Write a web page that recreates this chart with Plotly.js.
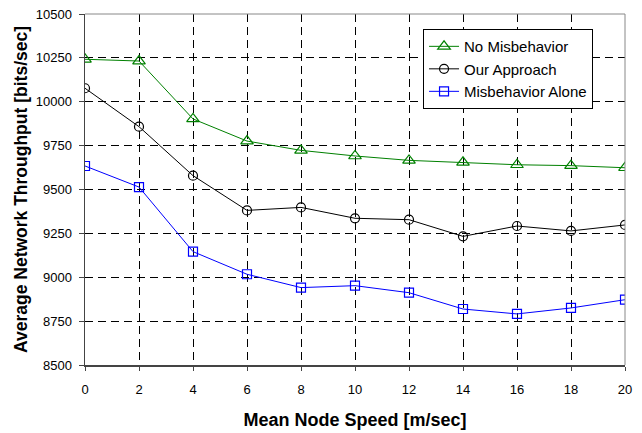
<!DOCTYPE html>
<html><head><meta charset="utf-8">
<script src="https://cdn.plot.ly/plotly-3.0.1.min.js"></script>
<style>body{margin:0;background:#fff}#c{width:642px;height:433px}</style>
</head><body><div id="c"></div>
<script>
const speeds = [0, 2, 4, 6, 8, 10, 12, 14, 16, 18, 20];
const noMisbehavior = [10242, 10232, 9902, 9776, 9723, 9691, 9666, 9655, 9641, 9636, 9624];
const ourApproach = [10077, 9858, 9579, 9381, 9398, 9336, 9328, 9233, 9292, 9264, 9298];
const misbehaviorAlone = [9634, 9514, 9146, 9017, 8941, 8952, 8912, 8819, 8791, 8825, 8872];
const yTicks = [8500, 8750, 9000, 9250, 9500, 9750, 10000, 10250, 10500];

const traces = [
  {x: speeds, y: noMisbehavior, name: 'No Misbehavior', mode: 'lines+markers',
   line: {color: '#008000', width: 1},
   marker: {symbol: 'triangle-up-open', size: 11, color: '#008000', line: {width: 1.2}}},
  {x: speeds, y: ourApproach, name: 'Our Approach', mode: 'lines+markers',
   line: {color: '#000000', width: 1},
   marker: {symbol: 'circle-open', size: 9, color: '#000000', line: {width: 1.2}}},
  {x: speeds, y: misbehaviorAlone, name: 'Misbehavior Alone', mode: 'lines+markers',
   line: {color: '#0000ff', width: 1},
   marker: {symbol: 'square-open', size: 9, color: '#0000ff', line: {width: 1.2}}}
];

const layout = {
  width: 642, height: 433,
  margin: {l: 85, r: 17, t: 14, b: 68},
  paper_bgcolor: '#fff', plot_bgcolor: '#fff',
  font: {family: 'Liberation Sans, Arial, sans-serif', size: 13, color: '#000'},
  showlegend: true,
  legend: {x: 0.626, y: 0.957, xanchor: 'left', yanchor: 'top',
           bgcolor: '#fff', bordercolor: '#000', borderwidth: 1,
           font: {size: 15}, tracegroupgap: 0},
  xaxis: {range: [0, 20], tickvals: speeds, ticktext: speeds.map(String),
          showgrid: true, gridcolor: '#000', griddash: '8px,5px', gridwidth: 1,
          zeroline: false, showline: true, linecolor: '#444', linewidth: 1.5,
          ticks: 'outside', ticklen: 4, tickcolor: '#444', ticklabelstandoff: 8,
          tickfont: {size: 13},
          title: {text: 'Mean Node Speed [m/sec]', font: {size: 18, weight: 'bold'}, standoff: 17}},
  yaxis: {range: [8500, 10500], tickvals: yTicks, ticktext: yTicks.map(String),
          showgrid: true, gridcolor: '#000', griddash: '8px,5px', gridwidth: 1,
          zeroline: false, showline: true, linecolor: '#444', linewidth: 1.5,
          ticks: 'outside', ticklen: 5, tickcolor: '#444', ticklabelstandoff: 4,
          tickfont: {size: 13},
          title: {text: 'Average Network Throughput [bits/sec]', font: {size: 17.5, weight: 'bold'}, standoff: 3}},
  shapes: [
    {type: 'line', xref: 'paper', yref: 'paper', x0: 0, x1: 1, y0: 1, y1: 1, line: {color: '#888', width: 1}},
    {type: 'line', xref: 'paper', yref: 'paper', x0: 1, x1: 1, y0: 0, y1: 1, line: {color: '#888', width: 1}}
  ]
};
Plotly.newPlot('c', traces, layout, {displayModeBar: false, staticPlot: true});
</script></body></html>
